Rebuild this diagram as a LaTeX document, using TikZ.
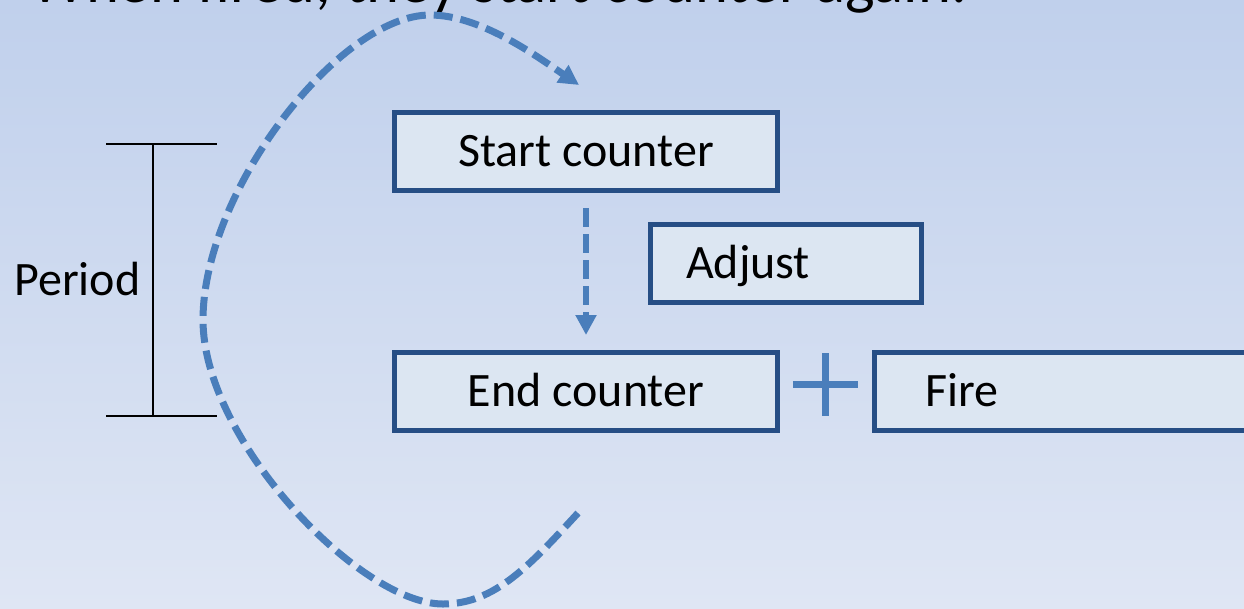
\documentclass[tikz,border=0pt]{standalone}
\usepackage{fontspec}
\setmainfont{Carlito}
\usetikzlibrary{arrows.meta}
\definecolor{bgtop}{RGB}{192,208,236}
\definecolor{bgbot}{RGB}{223,230,244}
\definecolor{boxfill}{RGB}{220,230,242}
\definecolor{boxline}{RGB}{38,78,133}
\definecolor{flow}{RGB}{74,126,187}

\begin{document}
\begin{tikzpicture}[x=0.75pt,y=-0.75pt,
  box/.style={draw=boxline, fill=boxfill, line width=3.75pt,
    minimum height=58.5pt, minimum width=287.25pt, inner ysep=0pt,
    text height=26pt, text depth=3.5pt, font=\fontsize{36}{43}\selectfont},
  leftbox/.style={box, align=left, minimum width=0pt},
  flowline/.style={draw=flow, line width=5.25pt, dash pattern=on 14.25pt off 6pt},
  flowtip/.style={-{Triangle[length=15pt,width=15pt]}},
  bracket/.style={draw=black, line width=1.6pt},
  txt/.style={inner sep=0pt, font=\fontsize{36}{43}\selectfont},
]
% canvas and background
\useasboundingbox (0,0) rectangle (1244,608);
\clip (0,0) rectangle (1244,608);
\shade[top color=bgtop, bottom color=bgbot] (0,0) rectangle (1244,608);

% heading, partly above the page edge
\node[txt, anchor=base west, font=\fontsize{47}{56}\selectfont] (title) at (30,2.5)
  {When fired, they start counter again.};

% boxes
\node[box] (start) at (586,151.5) {Start counter};
\node[leftbox, inner xsep=26.6pt, text width=150pt] (adjust) at (786,263.5) {Adjust};
\node[box] (end) at (586,391.5) {End counter};
\node[leftbox, inner xsep=38pt, text width=211.25pt] (fire) at (1066,391.5) {Fire};

% start -> end
\draw[flowline, line width=4.75pt, dash pattern=on 14.25pt off 5.25pt, flowtip]
  ([yshift=-11.25pt]start.south) -- ([yshift=11.25pt]end.north);

% plus sign between end counter and fire
\coordinate (plusc) at (825.5,384.5);
\draw[draw=flow, line width=5pt] ([xshift=-24.4pt]plusc) -- ([xshift=24.4pt]plusc);
\draw[draw=flow, line width=5pt] ([yshift=23.6pt]plusc) -- ([yshift=-23.6pt]plusc);

% period bracket
\coordinate (btop) at (153,144);
\coordinate (bbot) at (153,416);
\draw[bracket] (btop) -- (bbot);
\draw[bracket] ([xshift=-35.25pt]btop) -- ([xshift=48pt]btop);
\draw[bracket] ([xshift=-35.25pt]bbot) -- ([xshift=48pt]bbot);
\node[txt, anchor=base west] (period) at (14,295) {Period};

% loop back to the start
\coordinate (loopfrom) at (578,513);
\coordinate (loopto) at (579,85);
\draw[flowline, flowtip] (loopfrom)
  .. controls (530,565) and (495,604) .. (443,604)
  .. controls (360,604) and (203,440) .. (203,320)
  .. controls (203,190) and (340,15) .. (430,15)
  .. controls (480,15) and (535,55) .. (loopto);
\end{tikzpicture}
\end{document}
